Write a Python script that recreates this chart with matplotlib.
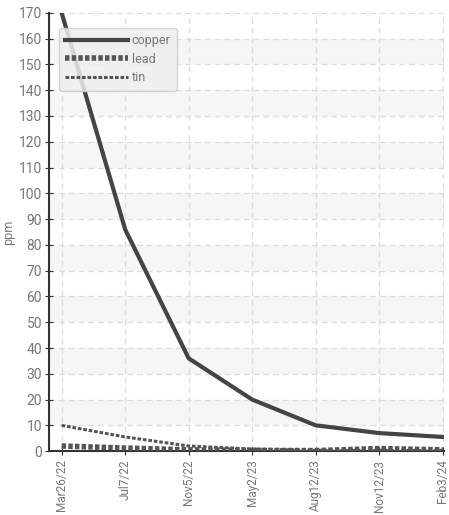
import numpy as np
import matplotlib.pyplot as plt

# sample dates and measured values (ppm)
dates = ["Mar26/22", "Jul7/22", "Nov5/22", "May2/23", "Aug12/23", "Nov12/23", "Feb3/24"]
copper = [170, 86, 36, 20, 10, 7, 5.5]
lead = [2, 1.2, 0.5, 0.3, 0.2, 1, 0.5]
tin = [10, 5.5, 2, 0.8, 0.3, 0.3, 0.3]
yticks = list(range(0, 171, 10))

plt.rcParams['font.family'] = ['Roboto', 'DejaVu Sans']
txt = '#777777'

fig = plt.figure(figsize=(4.49, 5.15), dpi=100)
ax = fig.add_axes([0.109, 0.124, 0.880, 0.851])

x = np.arange(len(dates))

# alternating bands
for i in range(1, len(yticks) - 1, 2):
    ax.axhspan(yticks[i], yticks[i + 1], color='#f6f6f6', zorder=0, lw=0)

ax.plot(x, copper, color='#444444', lw=3, label='copper', zorder=3)
ax.plot(x, lead, color='#555555', lw=4, dashes=(0.8, 0.4), label='lead', zorder=3)
ax.plot(x, tin, color='#555555', lw=2.2, dashes=(1.2, 0.6), label='tin', zorder=3)

ax.set_xlim(-0.2, 6.02)
ax.set_ylim(0, 170)
ax.set_yticks(yticks)
ax.set_xticks(x)
ax.set_xticklabels(dates, rotation=90)

ax.grid(True, color='#dddddd', ls=(0, (4, 3)), lw=1, zorder=1)
for s in ['top', 'right']:
    ax.spines[s].set_visible(False)
for s in ['left', 'bottom']:
    ax.spines[s].set_color('#333333')
    ax.spines[s].set_linewidth(1.5)
ax.tick_params(axis='both', direction='inout', length=6, color='#333333',
               labelcolor=txt, labelsize=10, pad=2)
ax.tick_params(axis='x', labelsize=8.5, pad=3)

ax.set_ylabel('ppm', color=txt, fontsize=9)
ax.yaxis.set_label_coords(-0.085, 0.5)

leg = ax.legend(loc='upper left', bbox_to_anchor=(0.01, 0.98), handlelength=5,
                handletextpad=0.3, labelspacing=0.45, fontsize=9, frameon=True,
                fancybox=True, borderpad=0.5)
leg.get_frame().set_facecolor('#eeeeee')
leg.get_frame().set_edgecolor('#cccccc')
leg.get_frame().set_alpha(0.85)
for t in leg.get_texts():
    t.set_color(txt)

fig.savefig('out.png', dpi=100)
